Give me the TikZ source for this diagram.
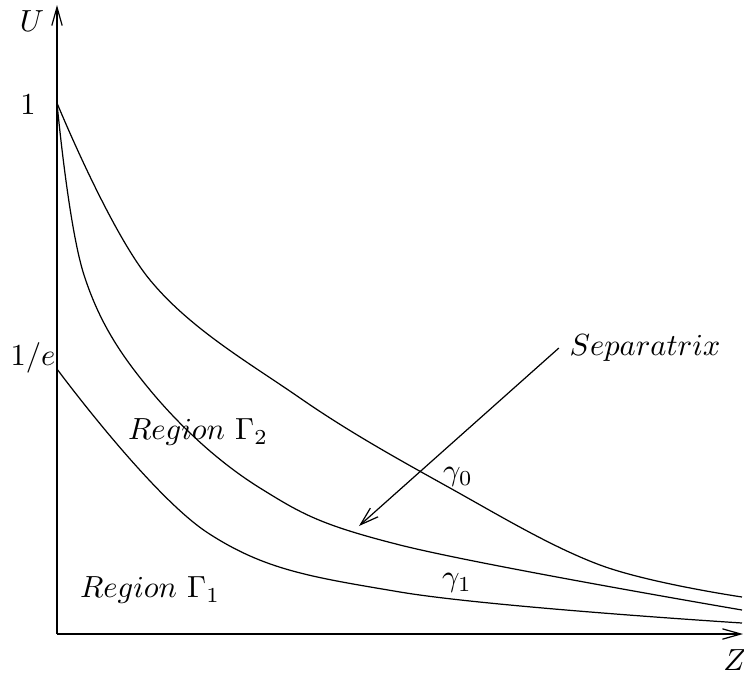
\documentclass[tikz,border=0pt]{standalone}
\usetikzlibrary{arrows.meta}
\begin{document}
\begin{tikzpicture}[
    x=0.0115cm, y=-0.0115cm,
    % Line and label styles
    axisline/.style={thin, -{Straight Barb[length=6pt,width=3.4pt]}},
    curveline/.style={thin, smooth, tension=0.6},
    arrowline/.style={thin, -{Straight Barb[length=6pt,width=3.8pt]}},
    lbl/.style={inner sep=1pt}
]
\useasboundingbox (0,0) rectangle (744,672);

% 1. Axes
\coordinate (origin) at (57,634);
\coordinate (utop) at (57,5);
\coordinate (zend) at (743,634);
\draw[axisline] (origin) -- (utop);
\draw[axisline] (origin) -- (zend);

% 2. Axis labels
\node[lbl] (ulab) at (32,21) {$U$};
\node[lbl] (zlab) at (735,660) {$Z$};
\node[lbl] (one) at (28,105) {$1$};
\node[lbl] (invE) at (33,358) {$1/e$};

% 3. Trajectories
\draw[curveline] plot coordinates {(57,103) (150,280) (300,398) (450,488) (600,565) (742,597)};
\draw[curveline] plot coordinates {(57,103) (84,275) (150,390) (260,488) (400,545) (742,610)};
\draw[curveline] plot coordinates {(57,369) (208,533) (400,592) (742,623)};

% 4. Curve and region labels
\node[lbl] (gam0) at (458,477) {$\gamma_0$};
\node[lbl] (gam1) at (457,583) {$\gamma_1$};
\node[lbl] (reg2) at (198,432) {$Region\ \Gamma_2$};
\node[lbl] (reg1) at (150,590) {$Region\ \Gamma_1$};
\node (sep) at (645,348) {$Separatrix$};

% 5. Separatrix pointer
\coordinate (septip) at (359,526);
\draw[arrowline] (sep.west) -- (septip);

\end{tikzpicture}
\end{document}
